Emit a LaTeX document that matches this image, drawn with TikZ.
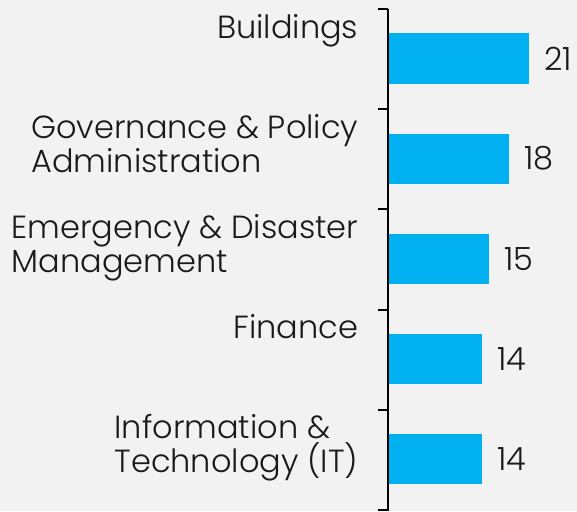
\documentclass[tikz,border=0pt]{standalone}
\usepackage{fontspec}
\setmainfont{Poppins}[UprightFont=* Light]
\usetikzlibrary{calc,positioning}
\definecolor{barblue}{HTML}{00B0F0}
\definecolor{bggray}{HTML}{F2F2F2}
\definecolor{txtgray}{HTML}{1A1A1A}

\begin{document}
\begin{tikzpicture}[x=1pt,y=-1pt,
    every node/.style={font=\fontsize{32}{34}\selectfont, text=txtgray, inner sep=0pt},
    bar/.style={fill=barblue},
    axisline/.style={line width=2pt, black}]
        \fill[bggray] (0,0) rectangle (577,511);
        \useasboundingbox (0,0) rectangle (577,511);
        \coordinate (top) at (387.5,9);
        \coordinate (bottom) at (387.5,511);
        \draw[axisline] (top) -- (bottom);
        % \off: baseline of the last line below the tick
        \foreach \i/\lab/\val/\off in {0/Buildings/21/29,
            1/{Governance \& Policy\\Administration}/18/63,
            2/{Emergency \& Disaster\\Management}/15/63,
            3/Finance/14/29,
            4/{Information \&\\Technology (IT)}/14/63} {
            \coordinate (t\i) at (378, 9+100.2*\i);
            \draw[axisline] (t\i) -- ++(10,0);
            \fill[bar] (389, 33.5+100.2*\i) rectangle ++(6.667*\val, 50);
            \coordinate (e\i) at (389+6.667*\val, 58.5+100.2*\i);
            \node[right=15pt of e\i] (v\i) {\val};
            \node[anchor=base east, align=left] (l\i) at (358.5, 9+\off+100.2*\i) {\lab};
        }
        \coordinate (t5) at (378,510);
        \draw[axisline] (t5) -- ++(10,0);
        % \draw[red] (0,0) rectangle (577,511);
    \end{tikzpicture}
\end{document}
